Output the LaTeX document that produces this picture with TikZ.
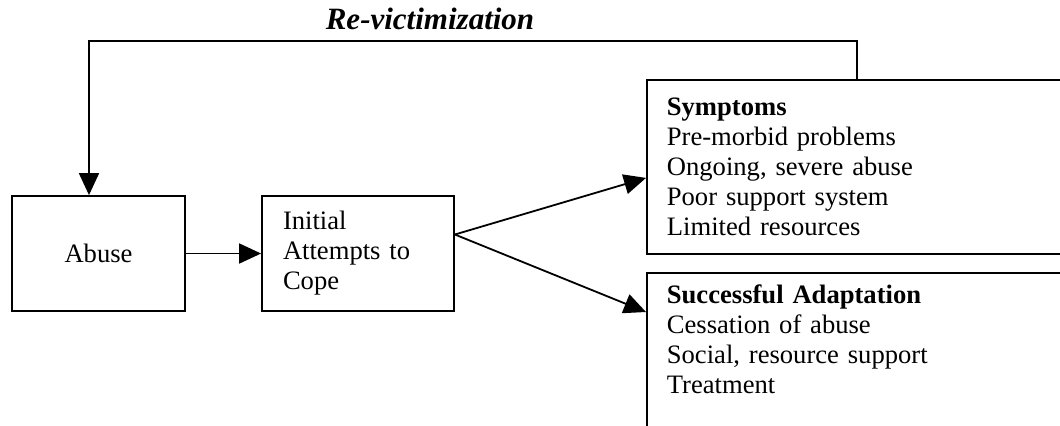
\documentclass[tikz,border=0pt]{standalone}
\usepackage{fontspec}
\setmainfont{Liberation Serif}
\usetikzlibrary{arrows.meta}

\begin{document}
\begin{tikzpicture}[x=0.5pt, y=-0.5pt, >={Triangle[length=11pt,width=10pt]}, line width=0.9pt,
  box/.style={draw, rectangle, font=\fontsize{13.3}{15}\selectfont}]
\clip (0,0) rectangle (1060,425);
\node[box, minimum width=86.5pt, minimum height=57.5pt] (abuse) at (98.5,253.5) {Abuse};
\node[box, minimum width=96pt, minimum height=57.5pt, text width=75pt, align=left] (cope) at (358,253.5) {Initial\\Attempts to\\Cope};
\node[box, anchor=north west, inner xsep=10pt, text width=200pt, minimum height=87pt, align=left] (symp) at (646,79)
  {\textbf{Symptoms}\\Pre-morbid problems\\Ongoing, severe abuse\\Poor support system\\Limited resources};
\node[box, anchor=north west, inner xsep=10pt, inner ysep=6pt, text width=200pt, text depth=60pt, align=left] (adapt) at (646,272)
  {\textbf{Successful Adaptation}\\Cessation of abuse\\Social, resource support\\Treatment};
\node[font=\fontsize{15.5}{18}\selectfont\bfseries\itshape, anchor=base] (revic) at (430,29) {Re-victimization};
\coordinate (loopR) at (857,79);
\coordinate (loopL) at (89,41);
\draw[->] (abuse) -- (cope);
\draw[->] ([yshift=9.5pt]cope.east) -- ([yshift=-5.5pt]symp.west);
\draw[->] ([yshift=9.5pt]cope.east) -- ([yshift=-20pt]adapt.north west);
\draw[->] (loopR) |- (loopL) -- (loopL |- abuse.north);
\end{tikzpicture}
\end{document}
